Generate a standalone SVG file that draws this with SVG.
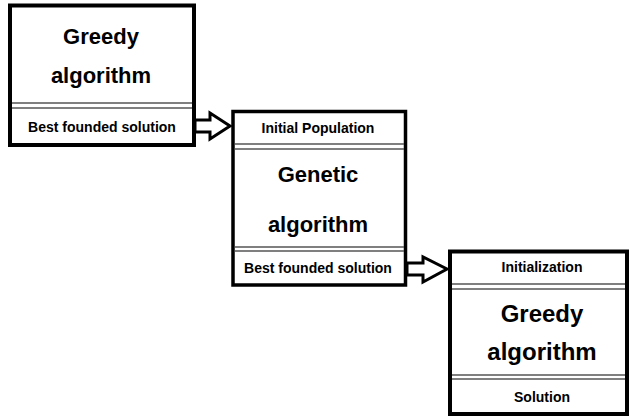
<svg xmlns="http://www.w3.org/2000/svg" width="629" height="419" viewBox="0 0 629 419">
<style>
.box{fill:#fff;stroke:#000;stroke-width:4}
.sep{stroke:#555;stroke-width:1.5;fill:none}
.arrow{fill:#fff;stroke:#000;stroke-width:3;stroke-linejoin:miter}
text{font-family:"Liberation Sans",Arial,sans-serif;font-weight:bold;text-anchor:middle;fill:#000}
.t{font-size:22px}
.s{font-size:14px}
</style>
<rect width="629" height="419" fill="#fff"/>
<g id="greedy1">
<rect class="box" x="10" y="5.5" width="184" height="139.5"/>
<line class="sep" x1="12" y1="103" x2="192" y2="103"/>
<line class="sep" x1="12" y1="108" x2="192" y2="108"/>
<text class="t" x="101" y="44">Greedy</text>
<text class="t" x="101" y="83">algorithm</text>
<text class="s" x="102" y="132">Best founded solution</text>
</g>
<g id="genetic">
<rect class="box" x="233" y="111.5" width="172.5" height="173.5" style="stroke-width:3.5"/>
<line class="sep" x1="235" y1="144" x2="404" y2="144"/>
<line class="sep" x1="235" y1="149" x2="404" y2="149"/>
<line class="sep" x1="235" y1="247" x2="404" y2="247"/>
<line class="sep" x1="235" y1="251" x2="404" y2="251"/>
<text class="s" x="318" y="133">Initial Population</text>
<text class="t" x="318" y="182">Genetic</text>
<text class="t" x="318" y="232">algorithm</text>
<text class="s" x="318" y="273">Best founded solution</text>
</g>
<g id="greedy2">
<rect class="box" x="450" y="251.5" width="177" height="162.5"/>
<line class="sep" x1="452" y1="284" x2="625" y2="284"/>
<line class="sep" x1="452" y1="289" x2="625" y2="289"/>
<line class="sep" x1="452" y1="375" x2="625" y2="375"/>
<line class="sep" x1="452" y1="379" x2="625" y2="379"/>
<text class="s" x="542" y="272">Initialization</text>
<text class="t" x="542" y="322" style="font-size:24px">Greedy</text>
<text class="t" x="542" y="360" style="font-size:24px">algorithm</text>
<text class="s" x="542" y="402">Solution</text>
</g>
<g id="connectors">
<polygon class="arrow" points="195,120 210,120 210,113 230,126 210,139 210,132 195,132"/>
<polygon class="arrow" points="407,263 423,263 423,257 447,269 423,282 423,275 407,275"/>
</g>
</svg>
